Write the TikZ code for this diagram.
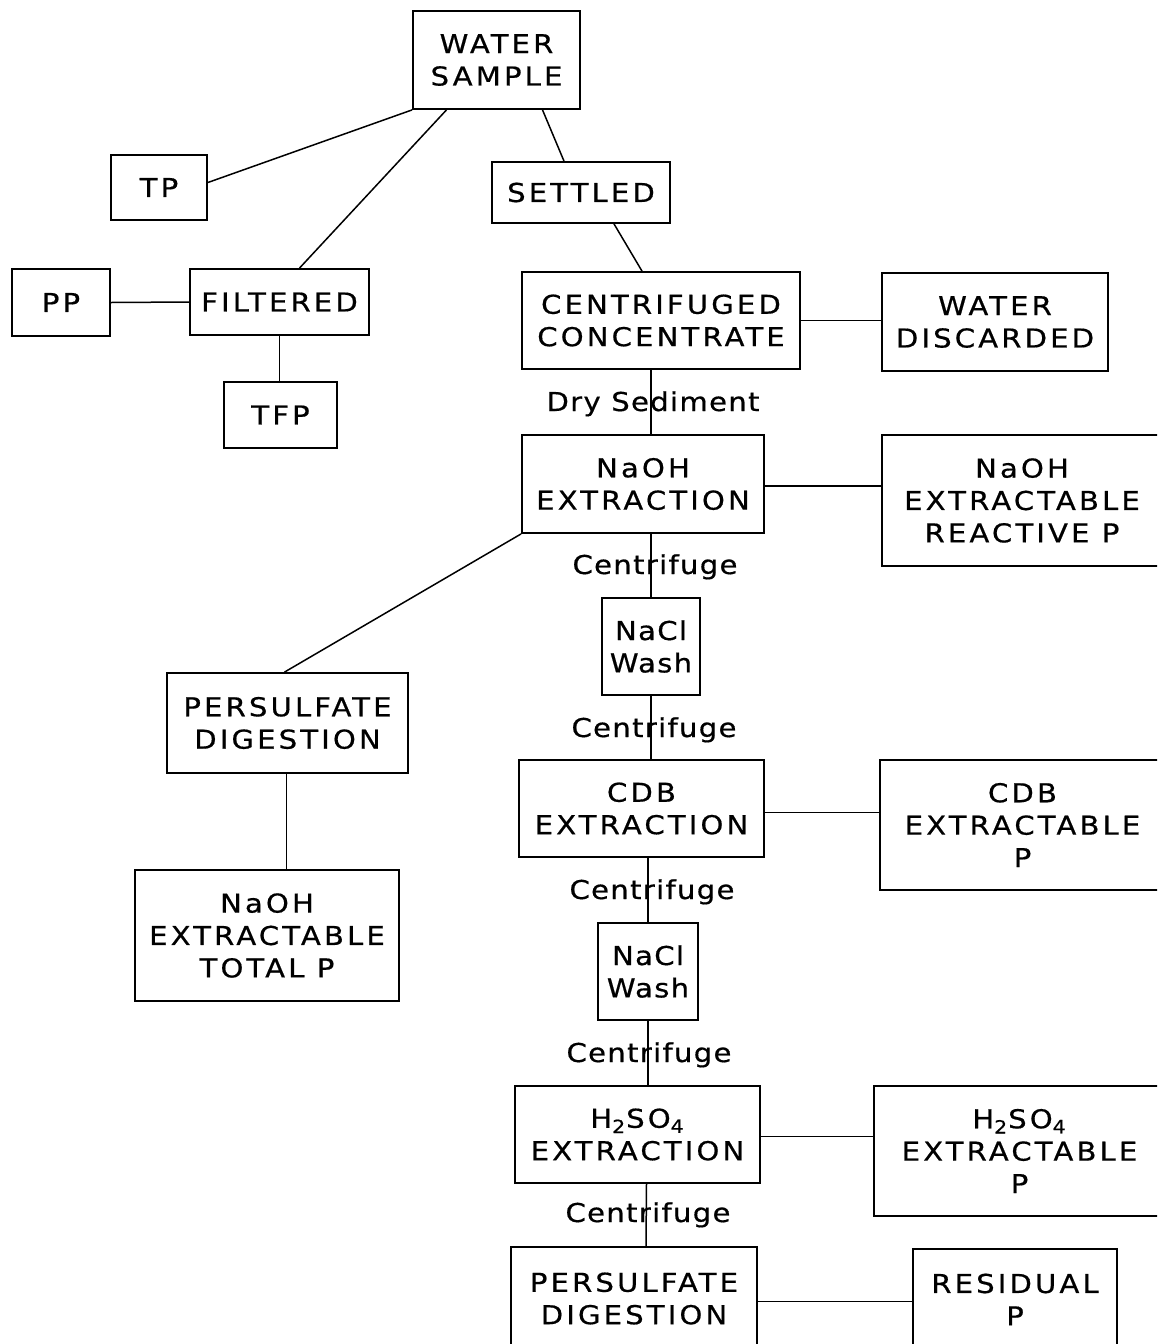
\documentclass[tikz,border=0pt]{standalone}
\usepackage{fontspec}
\setmainfont{DejaVu Sans}[LetterSpace=12, FakeStretch=1.12, FakeBold=0.6]
\newfontfamily\lowfont{DejaVu Sans}[LetterSpace=5, FakeStretch=1.12, FakeBold=0.6]
\usetikzlibrary{calc}
\tikzset{
  box/.style={draw, line width=0.9pt, rectangle, inner sep=0pt, align=center,
    font=\fontsize{13}{16.2}\selectfont},
  lbl/.style={inner sep=0pt, anchor=base, font=\lowfont\fontsize{13}{16.2}\selectfont},
  conn/.style={line width=0.75pt}
}
\begin{document}
\begin{tikzpicture}[x=0.5pt,y=-0.5pt]
\useasboundingbox (0,0) rectangle (1157,1344);
\clip (0,0) rectangle (1157,1344);
\fill[white] (0,0) rectangle (1157,1344);

\node[box, minimum width=83.5pt, minimum height=49pt] (ws) at (496.5,60) {WATER\\SAMPLE};
\node[box, minimum width=48pt, minimum height=32.5pt] (tp) at (159,187.5) {TP};
\node[box, minimum width=89pt, minimum height=30.5pt] (settled) at (581,192.5) {SETTLED};
\node[box, minimum width=49pt, minimum height=33.5pt] (pp) at (61,302.5) {PP};
\node[box, minimum width=89.5pt, minimum height=33pt] (filtered) at (279.5,302) {FILTERED};
\node[box, minimum width=56.5pt, minimum height=33pt] (tfp) at (280.5,415) {TFP};
\node[box, minimum width=139pt, minimum height=48.5pt] (cc) at (661,320.5) {CENTRIFUGED\\CONCENTRATE};
\node[box, minimum width=113pt, minimum height=49pt] (wd) at (995,322) {WATER\\DISCARDED};
\node[box, minimum width=121pt, minimum height=49pt] (naoh) at (643,484) {NaOH\\EXTRACTION};
\node[box, minimum width=140pt, minimum height=65.5pt] (naohr) at (1022,500.5) {NaOH\\EXTRACTABLE\\REACTIVE P};
\node[box, minimum width=49pt, minimum height=48.5pt] (nacla) at (651,646.5) {\lowfont NaCl\\\lowfont Wash};
\node[box, minimum width=120.5pt, minimum height=50pt] (persa) at (287.5,723) {PERSULFATE\\DIGESTION};
\node[box, minimum width=122.5pt, minimum height=48.5pt] (cdb) at (641.5,808.5) {CDB\\EXTRACTION};
\node[box, minimum width=142.5pt, minimum height=65pt] (cdbp) at (1022.5,825) {CDB\\EXTRACTABLE\\P};
\node[box, minimum width=132pt, minimum height=65.5pt] (naoht) at (267,935.5) {NaOH\\EXTRACTABLE\\TOTAL P};
\node[box, minimum width=50pt, minimum height=48.5pt] (naclb) at (648,971.5) {\lowfont NaCl\\\lowfont Wash};
\node[box, minimum width=122.5pt, minimum height=48.5pt] (hso) at (637.5,1134.5) {H\textsubscript{2}SO\textsubscript{4}\\EXTRACTION};
\node[box, minimum width=145.5pt, minimum height=65pt] (hsop) at (1019.5,1151) {H\textsubscript{2}SO\textsubscript{4}\\EXTRACTABLE\\P};
\node[box, minimum width=123pt, minimum height=51.5pt] (persb) at (634,1298.5) {PERSULFATE\\DIGESTION};
\node[box, minimum width=102pt, minimum height=50.5pt] (resid) at (1015,1299.5) {RESIDUAL\\P};

% connectors
\draw[conn] (ws.south west) -- ($(tp.east)+(0,-5)$);
\draw[conn] ($(ws.south)+(-50,0)$) -- ($(filtered.north)+(20,0)$);
\draw[conn] ($(ws.south)+(46,0)$) -- ($(settled.north)+(-17,0)$);
\draw[conn] ($(settled.south)+(33,0)$) -- ($(cc.north)+(-19,0)$);
\draw[conn] (pp.east) -- (filtered.west);
\draw[conn] (filtered.south) -- (filtered.south |- tfp.north);
\draw[conn] (cc.east) -- (cc.east -| wd.west);
\draw[conn] ($(cc.south)+(-10,0)$) coordinate (ds) -- (ds |- naoh.north);
\draw[conn] ($(naoh.east)+(0,2)$) coordinate (ne) -- (ne -| naohr.west);
\draw[conn] (naoh.south west) -- ($(persa.north)+(-3,0)$);
\draw[conn] (nacla.north |- naoh.south) -- (nacla.north);
\draw[conn] (nacla.south) -- (nacla.south |- cdb.north);
\draw[conn] ($(cdb.east)+(0,4)$) coordinate (ce) -- (ce -| cdbp.west);
\draw[conn] ($(persa.south)+(-1,0)$) coordinate (pd) -- (pd |- naoht.north);
\draw[conn] (naclb.north |- cdb.south) -- (naclb.north);
\draw[conn] (naclb.south) -- (naclb.south |- hso.north);
\draw[conn] ($(hso.east)+(0,2)$) coordinate (he) -- (he -| hsop.west);
\draw[conn] ($(hso.south)+(9,0)$) -- ($(persb.north)+(12,0)$);
\draw[conn] ($(persb.east)+(0,3)$) coordinate (pe) -- (pe -| resid.west);

% labels
\node[lbl] (lds) at (653,411) {Dry Sediment};
\node[lbl] (lc1) at (655,574) {Centrifuge};
\node[lbl] (lc2) at (654,737) {Centrifuge};
\node[lbl] (lc3) at (652,899) {Centrifuge};
\node[lbl] (lc4) at (649,1062) {Centrifuge};
\node[lbl] (lc5) at (648,1222) {Centrifuge};
\end{tikzpicture}
\end{document}
